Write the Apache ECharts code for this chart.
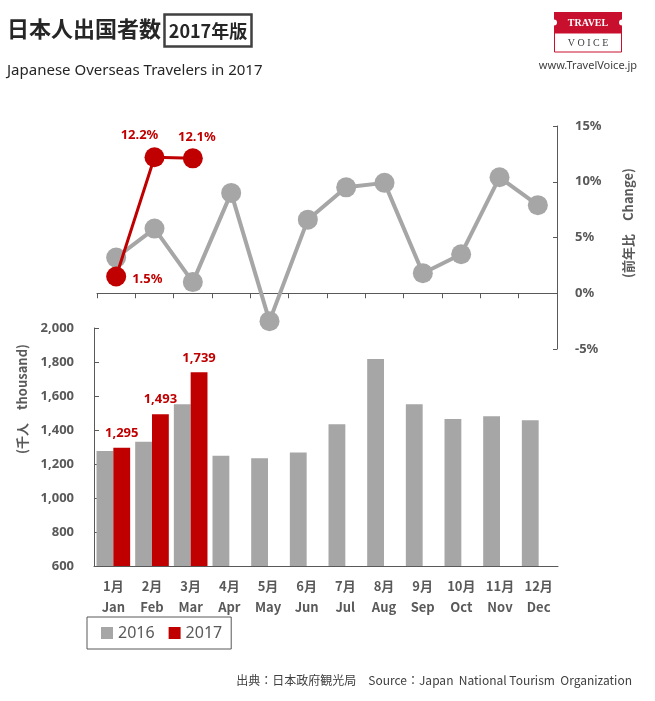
<!DOCTYPE html>
<html><head><meta charset="utf-8">
<script src="https://cdn.jsdelivr.net/npm/echarts@6/dist/echarts.min.js"></script>
<style>html,body{margin:0;padding:0;background:#fff}#c{width:655px;height:701px}</style>
</head><body><div id="c"></div>
<script>
var monthsJa = ['1月','2月','3月','4月','5月','6月','7月','8月','9月','10月','11月','12月'];
var monthsEn = ['Jan','Feb','Mar','Apr','May','Jun','Jul','Aug','Sep','Oct','Nov','Dec'];
var travelers2016 = [1276, 1331, 1551, 1248, 1234, 1268, 1434, 1817, 1552, 1464, 1481, 1458];
var travelers2017 = [1295, 1493, 1739, null, null, null, null, null, null, null, null, null];
var change2016 = [3.2, 5.8, 1.0, 9.0, -2.5, 6.6, 9.5, 9.9, 1.8, 3.5, 10.4, 7.9];
var change2017 = [1.5, 12.2, 12.1, null, null, null, null, null, null, null, null, null];
var changeTicks = {min: -5, max: 15, interval: 5};
var countTicks = {min: 600, max: 2000, interval: 200};

var FONT = "'Noto Sans','Noto Sans CJK JP',sans-serif";
var CJK = "'Noto Sans CJK JP','Noto Sans',sans-serif";
var GRAY = '#A6A6A6', RED = '#C00000', AX = '#595959';
function comma(v){ return String(v).replace(/\B(?=(\d{3})+(?!\d))/g, ','); }
var cats = monthsJa.map(function(m,i){ return m + '\n' + monthsEn[i]; });
var redLabelOffsets = [[0, 3], [-15, 1], [4, 1]];
var redLabelPos = ['right', 'top', 'top'];
var redLineData = change2017.map(function(v, i){
  if (v == null || !redLabelPos[i]) return v;
  return {value: v, label: {show: true, position: redLabelPos[i], offset: redLabelOffsets[i]}};
});

var chart = echarts.init(document.getElementById('c'));
chart.setOption({
  animation: false,
  textStyle: {fontFamily: FONT},
  grid: [
    {left: 97, top: 126, width: 460, height: 223},
    {left: 94, top: 328, width: 464, height: 238}
  ],
  xAxis: [
    {gridIndex: 0, type: 'category', data: cats, boundaryGap: true,
     axisLine: {onZero: true, lineStyle: {color: AX, width: 1}},
     axisTick: {show: true, length: 5, lineStyle: {color: AX}},
     axisLabel: {show: false}, splitLine: {show: false}},
    {gridIndex: 1, type: 'category', data: cats, boundaryGap: true,
     axisLine: {lineStyle: {color: AX, width: 1}},
     axisTick: {show: false},
     axisLabel: {color: AX, fontWeight: 'bold', fontSize: 13, lineHeight: 21, margin: 10, fontFamily: CJK}}
  ],
  yAxis: [
    {gridIndex: 0, type: 'value', position: 'right', min: changeTicks.min, max: changeTicks.max, interval: changeTicks.interval,
     axisLine: {show: true, lineStyle: {color: AX}},
     axisTick: {show: true, inside: true, length: 4, lineStyle: {color: AX}},
     axisLabel: {color: AX, fontWeight: 'bold', fontSize: 13, margin: 18, formatter: '{value}%'},
     splitLine: {show: false}},
    {gridIndex: 1, type: 'value', min: countTicks.min, max: countTicks.max, interval: countTicks.interval,
     axisLine: {show: true, lineStyle: {color: AX}},
     axisTick: {show: true, inside: true, length: 5, lineStyle: {color: AX}},
     axisLabel: {color: AX, fontWeight: 'bold', fontSize: 13, margin: 20, formatter: function(v){ return comma(v); }},
     splitLine: {show: false}}
  ],
  legend: {
    left: 87, top: 617, orient: 'horizontal',
    data: [{name: '2016', icon: 'rect'}, {name: '2017', icon: 'rect'}],
    itemWidth: 12, itemHeight: 12, itemGap: 14,
    padding: [8, 9, 8, 14],
    borderColor: AX, borderWidth: 1,
    textStyle: {color: AX, fontSize: 16, fontFamily: FONT}
  },
  series: [
    {name: '2016', type: 'bar', xAxisIndex: 1, yAxisIndex: 1, data: travelers2016,
     itemStyle: {color: GRAY}, barGap: '0%', barCategoryGap: '13%'},
    {name: '2017', type: 'bar', xAxisIndex: 1, yAxisIndex: 1, data: travelers2017,
     itemStyle: {color: RED}, barGap: '0%', barCategoryGap: '13%',
     label: {show: true, position: 'top', distance: 8, color: RED, fontWeight: 'bold', fontSize: 13,
             formatter: function(p){ return comma(p.value); }}},
    {name: '2016 前年比', type: 'line', xAxisIndex: 0, yAxisIndex: 0, data: change2016,
     symbol: 'circle', symbolSize: 20, itemStyle: {color: GRAY}, lineStyle: {color: GRAY, width: 4}, z: 3},
    {name: '2017 前年比', type: 'line', xAxisIndex: 0, yAxisIndex: 0, data: redLineData,
     symbol: 'circle', symbolSize: 20, itemStyle: {color: RED}, lineStyle: {color: RED, width: 3}, z: 4,
     connectNulls: false,
     label: {show: false, color: RED, fontWeight: 'bold', fontSize: 13, distance: 6,
             formatter: function(p){ return p.value.toFixed(1) + '%'; }}}
  ],
  graphic: [
    {type: 'text', left: 7, top: 18, style: {text: '日本人出国者数', font: 'bold 22px ' + CJK, fill: '#262626'}},
    {type: 'rect', shape: {x: 164.5, y: 14.5, width: 87, height: 32}, style: {fill: 'none', stroke: '#404040', lineWidth: 2.5}},
    {type: 'text', x: 208, y: 31, style: {text: '2017年版', font: 'bold 18px ' + CJK, fill: '#262626', textAlign: 'center', textVerticalAlign: 'middle'}},
    {type: 'text', x: 7, y: 71, style: {text: 'Japanese Overseas Travelers in 2017', font: '15px ' + FONT, fill: '#262626', textVerticalAlign: 'middle'}},
    // logo
    {type: 'rect', shape: {x: 554, y: 12, width: 68, height: 21}, style: {fill: '#C8102E'}},
    {type: 'circle', shape: {cx: 554, cy: 22.5, r: 3}, style: {fill: '#fff'}},
    {type: 'circle', shape: {cx: 622, cy: 22.5, r: 3}, style: {fill: '#fff'}},
    {type: 'text', x: 588, y: 23, style: {text: 'TRAVEL', font: 'bold 10px "Liberation Serif",serif', fill: '#fff', textAlign: 'center', textVerticalAlign: 'middle'}},
    {type: 'rect', shape: {x: 554.5, y: 33, width: 67, height: 19}, style: {fill: '#fff', stroke: '#C8102E', lineWidth: 1}},
    {type: 'text', x: 588, y: 43, style: {text: 'V O I C E', font: '10px "Liberation Serif",serif', fill: '#404040', textAlign: 'center', textVerticalAlign: 'middle'}},
    {type: 'text', x: 588, y: 66, style: {text: 'www.TravelVoice.jp', font: '11px ' + FONT, fill: '#404040', textAlign: 'center', textVerticalAlign: 'middle'}},
    // axis names
    {type: 'text', x: 628, y: 223, rotation: Math.PI / 2, style: {text: '(前年比　Change)', font: 'bold 13px ' + CJK, fill: AX, textAlign: 'center', textVerticalAlign: 'middle'}},
    {type: 'text', x: 22, y: 399, rotation: Math.PI / 2, style: {text: '(千人　thousand)', font: 'bold 13px ' + CJK, fill: AX, textAlign: 'center', textVerticalAlign: 'middle'}},
    // source
    {type: 'text', x: 632, y: 680, style: {text: '出典：日本政府観光局　Source：Japan  National Tourism  Organization', font: '12px ' + CJK, fill: '#404040', textAlign: 'right', textVerticalAlign: 'middle'}}
  ]
});
</script></body></html>
